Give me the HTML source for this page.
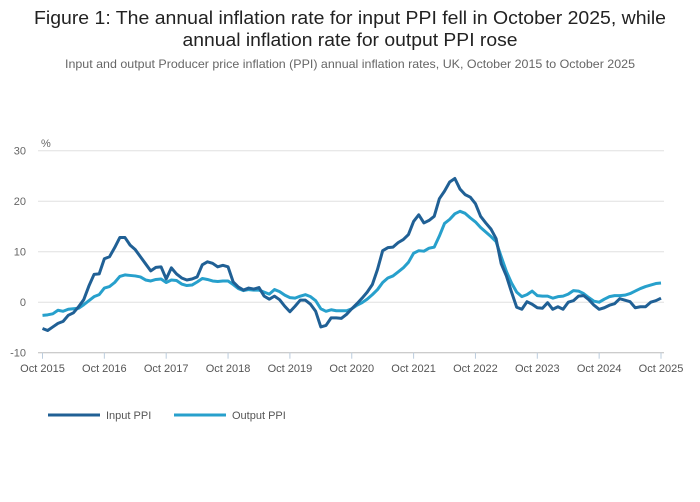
<!DOCTYPE html>
<html><head><meta charset="utf-8"><style>
html,body{margin:0;padding:0;background:#fff;}
svg{display:block;font-family:"Liberation Sans",sans-serif;}
</style></head><body>
<svg id="chart" width="700" height="502" viewBox="0 0 700 502">
<text x="350" y="24" text-anchor="middle" font-size="18" fill="#222" textLength="632" lengthAdjust="spacingAndGlyphs">Figure 1: The annual inflation rate for input PPI fell in October 2025, while</text>
<text x="350" y="46" text-anchor="middle" font-size="18" fill="#222" textLength="335" lengthAdjust="spacingAndGlyphs">annual inflation rate for output PPI rose</text>
<text x="350" y="68" text-anchor="middle" font-size="12" fill="#666" textLength="570" lengthAdjust="spacingAndGlyphs">Input and output Producer price inflation (PPI) annual inflation rates, UK, October 2015 to October 2025</text>
<text x="41" y="147" font-size="11" fill="#666">%</text>
<g id="grid"></g><g id="xaxis"></g><g id="series"></g>
<g>
<line x1="48" y1="415" x2="100" y2="415" stroke="#206095" stroke-width="3"/>
<text x="106" y="419" font-size="11" fill="#555">Input PPI</text>
<line x1="174" y1="415" x2="226" y2="415" stroke="#27a0cc" stroke-width="3"/>
<text x="232" y="419" font-size="11" fill="#555">Output PPI</text>
</g>
</svg>
<script>
const yTicks=[30,20,10,0,-10];
const xTickLabels=["Oct 2015","Oct 2016","Oct 2017","Oct 2018","Oct 2019","Oct 2020","Oct 2021","Oct 2022","Oct 2023","Oct 2024","Oct 2025"];
const inputPPI=[-5.2,-5.6,-4.9,-4.2,-3.8,-2.6,-2.1,-0.9,0.5,3.2,5.5,5.6,
8.6,9.0,10.8,12.8,12.8,11.3,10.4,9.0,7.6,6.2,6.9,7.0,
4.6,6.8,5.6,4.8,4.4,4.6,5.0,7.4,8.0,7.7,7.0,7.3,
7.0,4.0,3.0,2.4,2.8,2.6,2.9,1.2,0.6,1.2,0.5,-0.8,
-1.9,-0.8,0.4,0.4,-0.4,-1.8,-4.9,-4.6,-3.1,-3.1,-3.2,-2.4,
-1.3,-0.3,0.8,2.0,3.5,6.5,10.2,10.8,10.9,11.8,12.4,13.4,
16.0,17.3,15.7,16.2,17.0,20.5,22.0,23.8,24.5,22.4,21.3,20.8,
19.5,17.0,15.7,14.5,12.6,7.6,5.2,2.0,-1.0,-1.4,0.1,-0.4,
-1.1,-1.2,-0.1,-1.4,-0.9,-1.4,0.0,0.3,1.2,1.3,0.5,-0.6,
-1.4,-1.1,-0.6,-0.3,0.7,0.4,0.1,-1.1,-0.9,-0.9,0.0,0.3,
0.8];
const outputPPI=[-2.6,-2.5,-2.3,-1.6,-1.8,-1.4,-1.3,-1.2,-0.5,0.3,1.1,1.5,
2.8,3.1,3.9,5.1,5.4,5.3,5.2,5.0,4.4,4.2,4.5,4.6,
3.9,4.4,4.3,3.6,3.3,3.4,4.0,4.7,4.5,4.2,4.1,4.2,
4.2,3.5,2.7,2.3,2.5,2.4,2.4,2.0,1.6,2.5,2.1,1.4,
0.9,0.8,1.2,1.5,1.1,0.3,-1.3,-1.8,-1.5,-1.7,-1.7,-1.7,
-1.3,-0.6,-0.1,0.6,1.5,2.5,3.9,4.8,5.2,6.0,6.8,7.9,
9.7,10.2,10.1,10.7,10.9,13.1,15.6,16.4,17.5,18.0,17.6,16.7,
15.9,14.8,13.9,13.0,12.0,9.0,6.1,3.8,2.0,1.1,1.5,2.2,
1.3,1.2,1.2,0.8,1.1,1.2,1.6,2.3,2.2,1.7,0.9,0.2,
0.0,0.6,1.1,1.3,1.3,1.4,1.7,2.2,2.7,3.1,3.4,3.7,
3.8];
const NS="http://www.w3.org/2000/svg";
const X0=42.5,X1=661,Y0=302.2,PX=5.05;
const nMonths=inputPPI.length-1;
function xScale(i){return X0+(X1-X0)*i/nMonths;}
function yScale(v){return Y0-v*PX;}
function mk(tag,attrs,parent){const e=document.createElementNS(NS,tag);for(const k in attrs)e.setAttribute(k,attrs[k]);parent.appendChild(e);return e;}
const grid=document.getElementById('grid'),xa=document.getElementById('xaxis'),ser=document.getElementById('series');
yTicks.forEach(v=>{
  const l=mk('line',{x1:38,x2:664,y1:yScale(v),y2:yScale(v),stroke:v===-10?'#bbb':'#e0e0e0','stroke-width':1},grid);
  
  
  const t=mk('text',{x:26,y:yScale(v)+4,'text-anchor':'end','font-size':11,fill:'#666'},grid);
  t.textContent=String(v);
  
  
});
xTickLabels.forEach((lab,k)=>{
  const x=xScale(k*12);
  const l=mk('line',{x1:x,x2:x,y1:yScale(-10),y2:yScale(-10)+6,stroke:'#bcd',"stroke-width":1},xa);
  
  
  const t=mk('text',{x:x,y:372,'text-anchor':'middle','font-size':11,fill:'#555'},xa);
  t.textContent=lab;
  
  
});
function line(arr,color,name){
  const d=arr.map((v,i)=>(i?'L':'M')+xScale(i).toFixed(2)+' '+yScale(v).toFixed(2)).join(' ');
  const p=mk('path',{d:d,fill:'none',stroke:color,'stroke-width':3,'stroke-linejoin':'round'},ser);
  
  
}
line(outputPPI,'#27a0cc','output-ppi-line');
line(inputPPI,'#206095','input-ppi-line');
</script>
</body></html>
